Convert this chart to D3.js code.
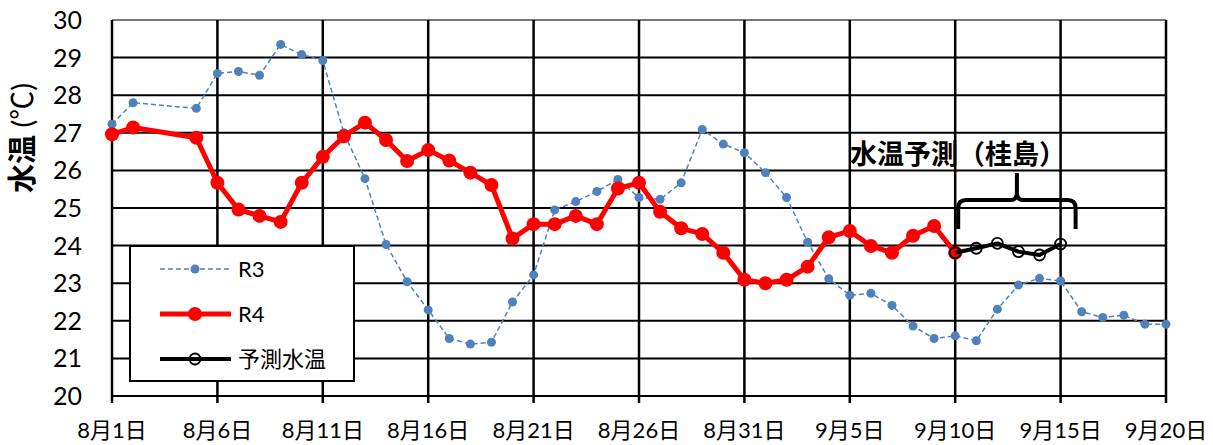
<!DOCTYPE html>
<html>
<head>
<meta charset="utf-8">
<script src="https://cdn.jsdelivr.net/npm/d3@7"></script>
<style>
body{margin:0;background:#fff;}
text{font-family:Lato,"Noto Sans CJK JP",sans-serif;}
</style>
</head>
<body>
<div id="svgContainer"></div>
<script>
// 水温グラフ
var svgWidth = 1213, svgHeight = 445;
var margin = {top:20, left:112, right:47, bottom:49};

// data (8/1 ~ 9/20, 1日ごと)
var startDate = new Date(2022,7,1);
var r3 = [27.23,27.80,null,null,27.65,28.58,28.63,28.53,29.35,29.08,
          28.92,27.00,25.78,24.03,23.04,22.29,21.53,21.38,21.43,22.50,
          23.22,24.95,25.17,25.44,25.76,25.28,25.23,25.67,27.09,26.70,
          26.47,25.94,25.28,24.09,23.12,22.68,22.73,22.41,21.86,21.53,
          21.60,21.47,22.31,22.95,23.13,23.06,22.24,22.09,22.15,21.91,21.91];
var r4 = [26.96,27.14,null,null,26.87,25.67,24.96,24.79,24.63,25.67,
          26.36,26.91,27.27,26.81,26.25,26.54,26.26,25.94,25.61,24.19,
          24.57,24.57,24.79,24.57,25.52,25.67,24.90,24.46,24.31,23.81,
          23.09,23.00,23.09,23.44,24.22,24.39,23.99,23.81,24.26,24.52,23.81];
var forecastStart = 40; // 9/10
var forecast = [23.81,23.93,24.06,23.84,23.75,24.04];
var xTicks = ["8/1","8/6","8/11","8/16","8/21","8/26","8/31","9/5","9/10","9/15","9/20"];
var yTicks = [20,21,22,23,24,25,26,27,28,29,30];
var seriesNames = ["R3","R4","予測水温"];

function dayOf(i){ return d3.timeDay.offset(startDate, i); }
function parseTick(s){ var p = s.split("/"); return new Date(2022, +p[0]-1, +p[1]); }
function toPoints(arr, offset){
    var pts = [];
    arr.forEach(function(v,i){ if(v!=null) pts.push({date:dayOf(i+offset), value:v}); });
    return pts;
}

var svg = d3.select("#svgContainer").append("svg")
    .attr("width",svgWidth)
    .attr("height",svgHeight);

var x = d3.scaleTime()
    .domain([startDate, parseTick(xTicks[xTicks.length-1])])
    .range([margin.left, svgWidth - margin.right]);
var y = d3.scaleLinear()
    .domain([20,30])
    .range([svgHeight - margin.bottom, margin.top]);

// grid
svg.append("g").selectAll("line").data(yTicks).enter().append("line")
    .attr("x1",x.range()[0]).attr("x2",x.range()[1])
    .attr("y1",d=>y(d)).attr("y2",d=>y(d))
    .attr("stroke",d=>d==30?"#777":"#000")
    .attr("stroke-width",2);
svg.append("g").selectAll("line").data(xTicks.map(parseTick)).enter().append("line")
    .attr("x1",d=>x(d)).attr("x2",d=>x(d))
    .attr("y1",y(30)).attr("y2",y(20)+7)
    .attr("stroke","#000")
    .attr("stroke-width",2.5);

// axes labels
svg.append("g").selectAll("text").data(yTicks).enter().append("text")
    .attr("x",82).attr("y",d=>y(d))
    .attr("dy","0.36em")
    .attr("text-anchor","end")
    .attr("font-size",25)
    .text(d=>d);
svg.append("g").selectAll("text").data(xTicks.map(parseTick)).enter().append("text")
    .attr("x",d=>x(d)).attr("y",438)
    .attr("text-anchor","middle")
    .attr("font-size",22)
    .text(d=>(d.getMonth()+1)+"月"+d.getDate()+"日");

var ytitle = svg.append("text")
    .attr("transform","translate(33,138) rotate(-90)")
    .attr("text-anchor","middle")
    .attr("font-size",29);
ytitle.append("tspan").attr("font-weight","bold").text("水温");
ytitle.append("tspan").text(" (℃)");

var line = d3.line().x(d=>x(d.date)).y(d=>y(d.value));

// R3
var r3pts = toPoints(r3,0);
svg.append("path").datum(r3pts)
    .attr("d",line).attr("fill","none")
    .attr("stroke","#4F81BD").attr("stroke-width",1.5)
    .attr("stroke-dasharray","5,3");
svg.append("g").selectAll("circle").data(r3pts).enter().append("circle")
    .attr("cx",d=>x(d.date)).attr("cy",d=>y(d.value))
    .attr("r",4.5).attr("fill","#4F81BD");

// R4
var r4pts = toPoints(r4,0);
svg.append("path").datum(r4pts)
    .attr("d",line).attr("fill","none")
    .attr("stroke","#FF0000").attr("stroke-width",5)
    .attr("stroke-linejoin","round");
svg.append("g").selectAll("circle").data(r4pts).enter().append("circle")
    .attr("cx",d=>x(d.date)).attr("cy",d=>y(d.value))
    .attr("r",7).attr("fill","#FF0000");

// 予測
var fpts = toPoints(forecast,forecastStart);
svg.append("path").datum(fpts)
    .attr("d",line).attr("fill","none")
    .attr("stroke","#000").attr("stroke-width",4)
    .attr("stroke-linejoin","round");
svg.append("g").selectAll("circle").data(fpts).enter().append("circle")
    .attr("cx",d=>x(d.date)).attr("cy",d=>y(d.value))
    .attr("r",5.5).attr("fill","none")
    .attr("stroke","#000").attr("stroke-width",1.8);

// 注記（中括弧）
var bl = x(dayOf(forecastStart))+3, br = x(dayOf(forecastStart+5))+15;
var bm = (bl+br)/2, bt = 200, bb = 229;
svg.append("path")
    .attr("d","M"+bl+","+bb+" L"+bl+","+(bt+8)+" Q"+bl+","+bt+" "+(bl+8)+","+bt+
              " L"+(bm-6)+","+bt+" Q"+bm+","+bt+" "+bm+","+(bt-8)+" L"+bm+","+(bt-27)+
              " M"+bm+","+(bt-8)+" Q"+bm+","+bt+" "+(bm+6)+","+bt+
              " L"+(br-8)+","+bt+" Q"+br+","+bt+" "+br+","+(bt+8)+" L"+br+","+bb)
    .attr("fill","none").attr("stroke","#000").attr("stroke-width",4);
svg.append("text")
    .attr("x",958).attr("y",164)
    .attr("text-anchor","middle")
    .attr("font-size",27)
    .attr("font-weight","bold")
    .text("水温予測（桂島）");

// legend
var legend = svg.append("g").attr("transform","translate(130,246)");
legend.append("rect")
    .attr("width",224).attr("height",135)
    .attr("fill","#fff").attr("stroke","#000").attr("stroke-width",2);
var styles = [
    {color:"#4F81BD", w:1.5, dash:"5,3", r:4.5, fill:"#4F81BD"},
    {color:"#FF0000", w:5, dash:null, r:7, fill:"#FF0000"},
    {color:"#000", w:4, dash:null, r:5.5, fill:"none"}
];
var item = legend.selectAll(".item").data(seriesNames).enter().append("g")
    .attr("class","item")
    .attr("transform",(d,i)=>"translate(0,"+(23+i*45)+")");
item.append("line")
    .attr("x1",30).attr("x2",101)
    .attr("stroke",(d,i)=>styles[i].color)
    .attr("stroke-width",(d,i)=>styles[i].w)
    .attr("stroke-dasharray",(d,i)=>styles[i].dash);
item.append("circle")
    .attr("cx",65).attr("r",(d,i)=>styles[i].r)
    .attr("fill",(d,i)=>styles[i].fill)
    .attr("stroke",(d,i)=>i==2?"#000":"none")
    .attr("stroke-width",1.8);
item.append("text")
    .attr("x",108).attr("dy","0.36em")
    .attr("font-size",22)
    .text(d=>d);
</script>
</body>
</html>
